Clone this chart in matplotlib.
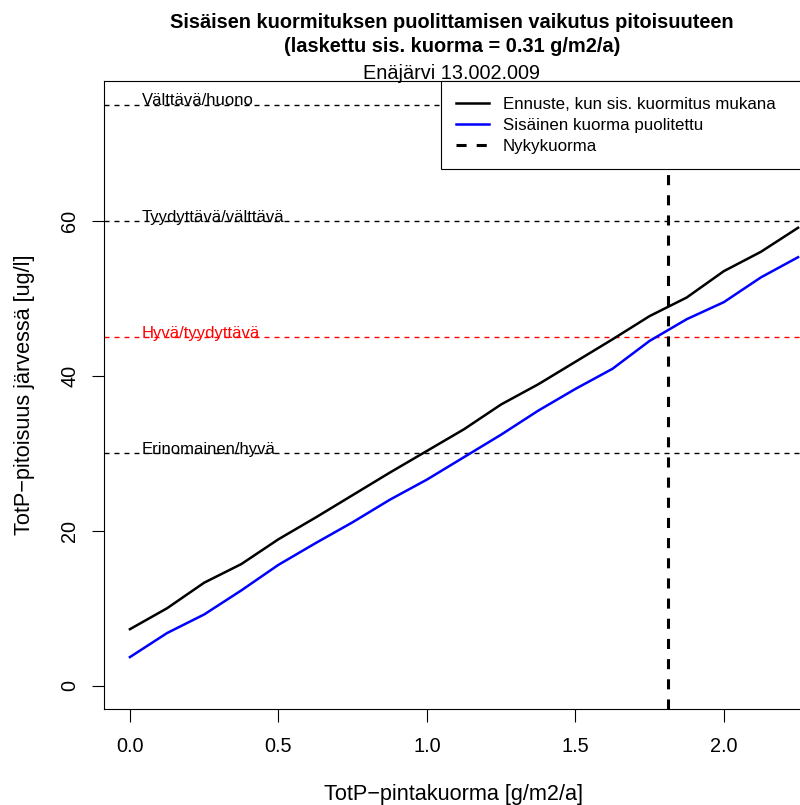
import matplotlib
matplotlib.use("Agg")
import matplotlib.pyplot as plt

# --- Datos ---
x_load = [0.0, 0.125, 0.25, 0.375, 0.5, 0.625, 0.75, 0.875, 1.0, 1.125,
          1.25, 1.375, 1.5, 1.625, 1.75, 1.875, 2.0, 2.125, 2.25]
ennuste = [7.3, 10.0, 13.3, 15.7, 18.9, 21.7, 24.6, 27.5, 30.3, 33.1,
           36.3, 38.9, 41.8, 44.7, 47.7, 50.1, 53.5, 56.0, 59.1]
puolitettu = [3.7, 6.8, 9.2, 12.3, 15.6, 18.4, 21.1, 24.0, 26.6, 29.5,
              32.4, 35.5, 38.3, 40.9, 44.5, 47.3, 49.5, 52.7, 55.3]
nykykuorma = 1.812

class_levels = [30, 45, 60, 75]
class_names = ["Erinomainen/hyvä", "Hyvä/tyydyttävä", "Tyydyttävä/välttävä", "Välttävä/huono"]
class_colors = ["black", "#ff0000", "black", "black"]

x_ticks = [0.0, 0.5, 1.0, 1.5, 2.0]
y_ticks = [0, 20, 40, 60]

plt.rcParams["font.family"] = ["Liberation Sans", "DejaVu Sans"]

W, H = 800, 805
fig = plt.figure(figsize=(W / 100, H / 100), dpi=100)
# plot region in pixels: left 103.8, right 804, top 81.3, bottom 709
ax = fig.add_axes([103.8 / W, (H - 709) / H, 700.2 / W, 627.7 / H])

for lvl, name, col in zip(class_levels, class_names, class_colors):
    ax.axhline(lvl, color=col, lw=1.0, linestyle=(0, (3.6, 3.6)), zorder=1)
    ax.text(0.04, lvl - 0.1, name, color=col, fontsize=12, ha="left", va="baseline", zorder=2)

ax.plot(x_load, ennuste, color="black", lw=1.8, label="Ennuste, kun sis. kuormitus mukana", zorder=3)
ax.plot(x_load, puolitettu, color="#0000ff", lw=1.8, label="Sisäinen kuorma puolitettu", zorder=3)
ax.axvline(nykykuorma, color="black", lw=2.2, linestyle=(0, (3.3, 3.3)), label="Nykykuorma", zorder=3)

ax.set_xlim(-0.088, 2.27)
ax.set_ylim(-3, 78)
ax.set_xticks(x_ticks)
ax.set_xticklabels([f"{v:.1f}" for v in x_ticks])
ax.set_yticks(y_ticks)
ax.set_yticklabels([str(v) for v in y_ticks])
ax.tick_params(axis="both", length=9, width=0.8, labelsize=14.3, pad=11.5, colors="black")
ax.tick_params(axis="y", labelrotation=90, pad=8.7)
for lab in ax.get_yticklabels():
    lab.set_va("center")

for sp in ax.spines.values():
    sp.set_linewidth(0.8)
    sp.set_color("black")

ax.set_xlabel("TotP−pintakuorma [g/m2/a]", fontsize=15.6, labelpad=19.5)
ax.set_ylabel("TotP−pitoisuus järvessä [ug/l]", fontsize=15.6, labelpad=17.8)

x0 = (441 - 103.8) / 700.2
leg = ax.legend(loc="upper left", bbox_to_anchor=(x0, 0, 1 - x0, 1), mode="expand",
                borderaxespad=0, fontsize=12.2, handlelength=1.95, handletextpad=0.8,
                borderpad=0.9, labelspacing=0.36, fancybox=False, framealpha=1,
                edgecolor="black")
leg.get_frame().set_linewidth(0.8)

cx = 452 / W
fig.text(cx, 1 - 28 / H, "Sisäisen kuormituksen puolittamisen vaikutus pitoisuuteen",
         ha="center", va="baseline", fontsize=14.4, fontweight="bold")
fig.text(cx, 1 - 52.5 / H, "(laskettu sis. kuorma = 0.31 g/m2/a)",
         ha="center", va="baseline", fontsize=14.4, fontweight="bold")
fig.text(cx, 1 - 79 / H, "Enäjärvi 13.002.009", ha="center", va="baseline", fontsize=14.3)

fig.savefig("out.png", dpi=100)
